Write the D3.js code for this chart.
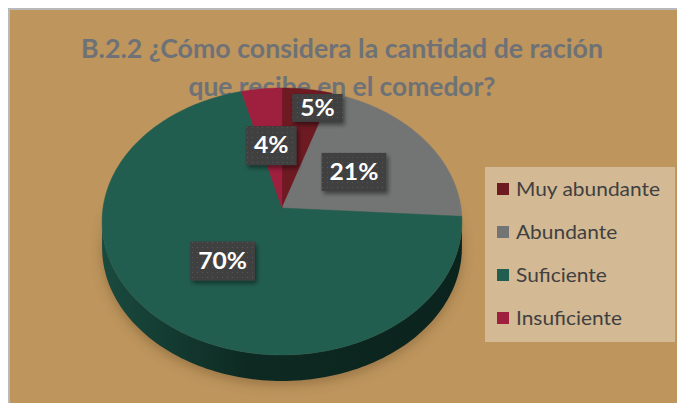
<!DOCTYPE html>
<html><head><meta charset="utf-8">
<script src="https://cdn.jsdelivr.net/npm/d3@7/dist/d3.min.js"></script>
<style>html,body{margin:0;padding:0;background:#fff;overflow:hidden}svg{display:block}</style>
</head><body>
<script>
const categories = ["Muy abundante", "Abundante", "Suficiente", "Insuficiente"];
const values = [5, 21, 70, 4];
const labels = ["5%", "21%", "70%", "4%"];
const colors = ["#6d1a22", "#737474", "#225e50", "#9e1f3e"];
const titleLines = ["B.2.2 ¿Cómo considera la cantidad de ración", "que recibe en el comedor?"];

const W = 677, H = 403;
const svg = d3.select("body").append("svg").attr("width", W).attr("height", H);
const defs = svg.append("defs");

// background frame
svg.append("rect").attr("x", 8).attr("y", 8).attr("width", W).attr("height", H).attr("fill", "#b9b9b9");
svg.append("rect").attr("x", 10).attr("y", 10).attr("width", W).attr("height", H).attr("fill", "#bd955d");

// title
const titleG = svg.append("g").attr("font-family", "Lato, 'Open Sans', sans-serif")
  .attr("font-weight", "bold").attr("font-size", 26).attr("fill", "#6e7276").attr("text-anchor", "middle");
const titlePos = [{y: 58, w: 522}, {y: 96, w: 307}];
titleLines.forEach((t, i) => {
  titleG.append("text").attr("x", 342).attr("y", titlePos[i].y)
    .attr("textLength", titlePos[i].w).attr("lengthAdjust", "spacingAndGlyphs").text(t);
});

// perspective projection of a unit disk
const cx = 282, cyC = 208, a = 179, b = 111.1, k = 0.101, depth = 26;
function proj(r, th) {
  const u = r * Math.sin(th), v = -r * Math.cos(th);
  const D = 1 - k * v;
  return [cx + a * u / D, (b * v + cyC) / D];
}
const pie = d3.pie().sort(null).value(d => d)(values);

// shadow
const sh = defs.append("filter").attr("id", "sh").attr("x", "-20%").attr("y", "-20%").attr("width", "140%").attr("height", "140%");
sh.append("feGaussianBlur").attr("stdDeviation", 6);
function ringPath(off) {
  const pts = d3.range(0, 361, 2).map(d => { const p = proj(1, d * Math.PI / 180); return [p[0], p[1] + off]; });
  return d3.line()(pts) + "Z";
}
svg.append("path").attr("d", ringPath(depth + 4)).attr("fill", "#7a5a30").attr("opacity", 0.55)
  .attr("filter", "url(#sh)");

// side
const thR = Math.PI - Math.acos(k), thL = Math.PI + Math.acos(k);
const sidePts = [];
for (let t = thR; t <= thL + 1e-9; t += (thL - thR) / 120) sidePts.push(proj(1, t));
const sideBottom = sidePts.slice().reverse().map(p => [p[0], p[1] + depth]);
const sg = defs.append("linearGradient").attr("id", "sideG").attr("x1", 0).attr("x2", 1).attr("y1", 0).attr("y2", 0);
sg.append("stop").attr("offset", "0%").attr("stop-color", "#1a4a3e");
sg.append("stop").attr("offset", "40%").attr("stop-color", "#0d2a22");
sg.append("stop").attr("offset", "100%").attr("stop-color", "#0b231d");
svg.append("path").attr("d", d3.line()(sidePts.concat(sideBottom)) + "Z").attr("fill", "url(#sideG)");

// top slices
function slicePath(d) {
  const n = Math.max(4, Math.ceil((d.endAngle - d.startAngle) / 0.02));
  const pts = [proj(0, 0)];
  for (let i = 0; i <= n; i++) pts.push(proj(1, d.startAngle + (d.endAngle - d.startAngle) * i / n));
  return d3.line()(pts) + "Z";
}
svg.append("g").selectAll("path").data(pie).join("path")
  .attr("d", slicePath).attr("fill", (d, i) => colors[i]).attr("stroke", (d, i) => colors[i]).attr("stroke-width", 0.5);

// labels
const pat = defs.append("pattern").attr("id", "dots").attr("width", 5).attr("height", 5).attr("patternUnits", "userSpaceOnUse");
pat.append("rect").attr("width", 5).attr("height", 5).attr("fill", "#3f3f3f");
pat.append("rect").attr("x", 2).attr("y", 2).attr("width", 1).attr("height", 1).attr("fill", "#565656");
const ds = defs.append("filter").attr("id", "ds").attr("x", "-30%").attr("y", "-30%").attr("width", "160%").attr("height", "160%");
ds.append("feDropShadow").attr("dx", 2).attr("dy", 3).attr("stdDeviation", 2).attr("flood-color", "#000").attr("flood-opacity", 0.45);

const labelR = [0.83, 0.5, 0.5, 0.5];
const labelDx = [14, 0, 0, 0];
const boxH = [28, 38, 39, 39];
const lg = svg.append("g");
pie.forEach((d, i) => {
  const mid = (d.startAngle + d.endAngle) / 2;
  const p = proj(labelR[i], mid);
  const x = p[0] + labelDx[i], y = p[1];
  const g = lg.append("g");
  const t = g.append("text").attr("x", x).attr("y", y).attr("text-anchor", "middle").attr("dy", "0.35em")
    .attr("font-family", "Lato, 'Open Sans', sans-serif").attr("font-weight", "bold").attr("font-size", 22)
    .attr("fill", "#fff").text(labels[i]);
  const tw = t.node().getComputedTextLength() * 1.12;
  t.attr("textLength", tw).attr("lengthAdjust", "spacingAndGlyphs");
  const bw = tw + 16;
  g.insert("rect", "text").attr("x", x - bw / 2).attr("y", y - boxH[i] / 2).attr("width", bw).attr("height", boxH[i])
    .attr("fill", "url(#dots)").attr("filter", "url(#ds)");
});

// legend
const leg = svg.append("g");
leg.append("rect").attr("x", 485).attr("y", 167).attr("width", 190).attr("height", 175).attr("fill", "#d3b994");
const ly = d3.scalePoint().domain(categories).range([190, 319]);
categories.forEach((c, i) => {
  leg.append("rect").attr("x", 497).attr("y", ly(c) - 7).attr("width", 12).attr("height", 12).attr("fill", colors[i]);
  const t = leg.append("text").attr("x", 516).attr("y", ly(c) + 6).attr("font-family", "Lato, 'Open Sans', sans-serif")
    .attr("font-size", 19).attr("fill", "#404040").text(c);
  const tw = t.node().getComputedTextLength() * 1.1;
  t.attr("textLength", tw).attr("lengthAdjust", "spacingAndGlyphs");
});
</script>
</body></html>
